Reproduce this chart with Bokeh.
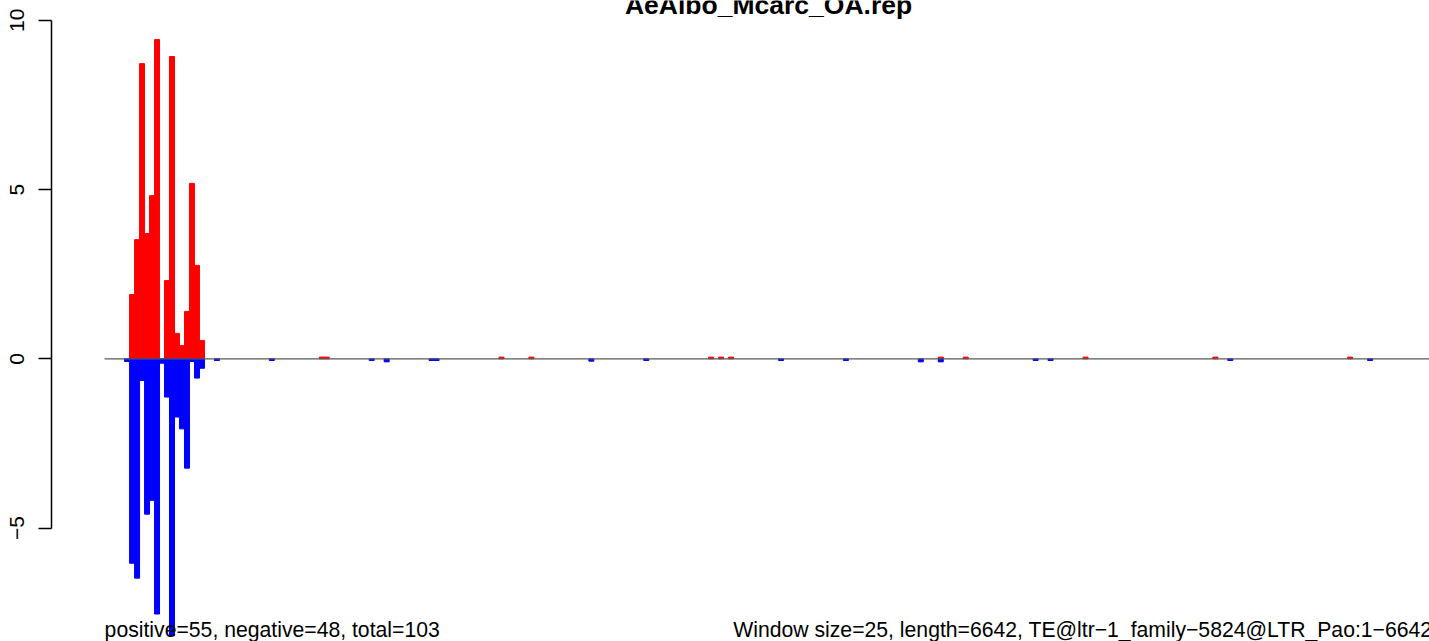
import math
from bokeh.plotting import figure
from bokeh.models import Range1d, LinearAxis, FixedTicker
from bokeh.core.properties import value
from bokeh.embed import file_html
from bokeh.resources import INLINE

# ---------------- data ----------------
n_windows = 266  # 6642 bp / 25 bp windows
title_text = "AeAlbo_Mcarc_OA.rep"
left_note = "positive=55, negative=48, total=103"
right_note = "Window size=25, length=6642, TE@ltr\u22121_family\u22125824@LTR_Pao:1\u22126642"
y_ticks = [-5, 0, 5, 10]
y_tick_labels = ["\u22125", "0", "5", "10"]

# sense (positive) windows
pos_index = [5, 6, 7, 8, 9, 10, 12, 13, 14, 15, 16, 17, 18, 19,
             43, 44, 79, 85, 121, 123, 125, 167, 172, 196, 222, 249]
pos_value = [1.90, 3.52, 8.72, 3.70, 4.82, 9.43, 2.31, 8.93, 0.75, 0.39, 1.40, 5.18, 2.76, 0.54,
             0.05, 0.05, 0.05, 0.05, 0.05, 0.05, 0.05, 0.05, 0.05, 0.05, 0.05, 0.05]

# antisense (negative) windows
neg_index = [4, 5, 6, 7, 8, 9, 10, 11, 12, 13, 14, 15, 16, 17, 18, 19,
             22, 33, 53, 56, 65, 66, 97, 108, 135, 148, 163, 167, 186, 189, 225, 253]
neg_value = [-0.08, -6.04, -6.48, -0.64, -4.59, -4.18, -7.54, -0.13, -1.13, -8.18, -1.72, -2.07, -3.23, -0.08, -0.57, -0.28,
             -0.05, -0.05, -0.05, -0.09, -0.05, -0.05, -0.07, -0.05, -0.05, -0.05, -0.09, -0.09, -0.05, -0.05, -0.05, -0.05]

# ---------------- layout ----------------
W, H = 1429, 641
LEFT = 51
PX_PER_BAR = 4.992
PX_PER_UNIT = 33.85
ZERO_PX = 358.3
x_start = -0.04 * n_windows
x_end = x_start + (W - LEFT) / PX_PER_BAR
y_start = (ZERO_PX - H) / PX_PER_UNIT
y_end = ZERO_PX / PX_PER_UNIT

def y_at(px):
    return (ZERO_PX - px) / PX_PER_UNIT

FONT = "Liberation Sans"

p = figure(width=W, height=H, output_backend="svg", toolbar_location=None,
           x_range=Range1d(x_start, x_end), y_range=Range1d(y_start, y_end),
           x_axis_location=None, y_axis_location=None, title=None,
           min_border_left=LEFT, min_border_right=0, min_border_top=0, min_border_bottom=0)
p.outline_line_color = None
p.background_fill_color = "white"
p.border_fill_color = "white"
p.xgrid.visible = False
p.ygrid.visible = False

yaxis = LinearAxis(ticker=FixedTicker(ticks=y_ticks), bounds=(-5, 10),
                   major_label_overrides=dict(zip(y_ticks, y_tick_labels)),
                   major_tick_out=13, major_tick_in=0,
                   minor_tick_out=0, minor_tick_in=0,
                   major_label_standoff=14,
                   major_label_orientation="parallel",
                   major_label_text_font=FONT,
                   major_label_text_font_size="21px",
                   major_label_text_color="black",
                   axis_line_color="black", axis_line_width=1.5,
                   major_tick_line_color="black", major_tick_line_width=1.5)
p.add_layout(yaxis, "left")

p.vbar(x=[i + 0.5 for i in pos_index], width=1, bottom=0, top=pos_value,
       fill_color="#FF0000", line_color="#FF0000", line_width=1)
p.vbar(x=[i + 0.5 for i in neg_index], width=1, bottom=neg_value, top=0,
       fill_color="#0000FF", line_color="#0000FF", line_width=1)

p.line(x=[0, n_windows], y=[0, 0], line_color="#595959", line_width=1.3)

p.text(x=[n_windows / 2], y=[y_at(4.3)], text=[title_text],
       text_align="center", text_baseline="alphabetic",
       text_font=value(FONT), text_font_style="bold", text_font_size="26.5px",
       text_color="black")
p.text(x=[0], y=[y_at(628.8)], text=[left_note],
       text_align="left", text_baseline="alphabetic",
       text_font=value(FONT), text_font_size="21.2px", text_color="black")
p.text(x=[n_windows], y=[y_at(628.8)], text=[right_note],
       text_align="right", text_baseline="alphabetic",
       text_font=value(FONT), text_font_size="21.2px", text_color="black")

open("out.html", "w").write(file_html(p, INLINE))
